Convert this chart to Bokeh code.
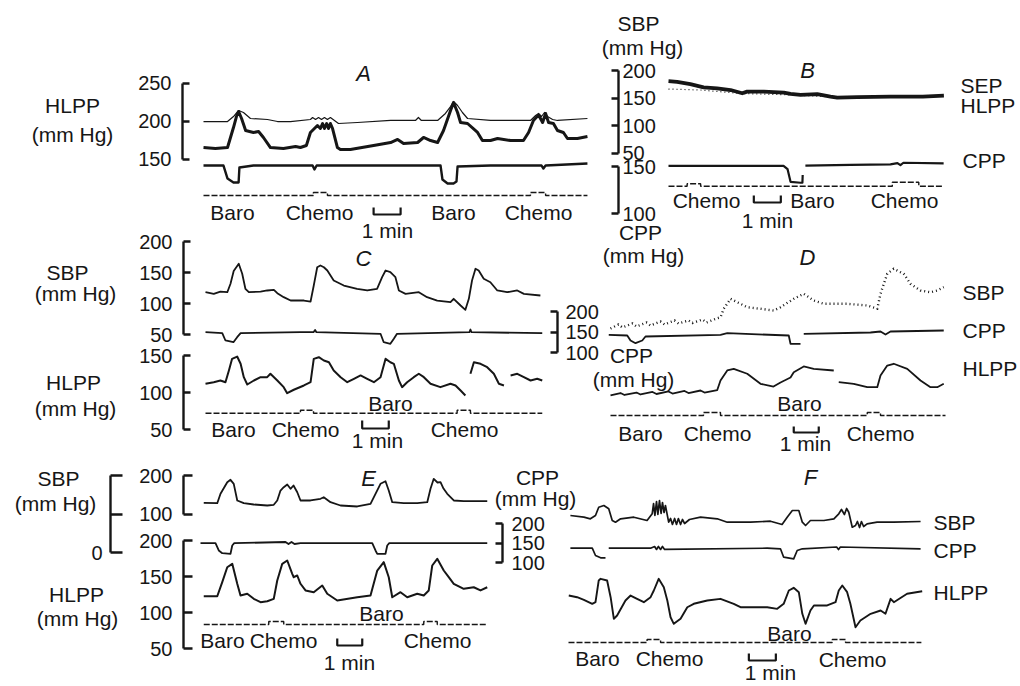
from bokeh.plotting import figure
from bokeh.models import Range1d, LinearAxis, FixedTicker, GridBox, ColumnDataSource
from bokeh.core.properties import value
from bokeh.embed import file_html
from bokeh.resources import INLINE

nan = float("nan")

# ------------------------------------------------------------------ data
# time in minutes from the start of each trace, pressures in mm Hg
A_t_sbp = [0, 0.89, 1.11, 1.30, 1.48, 1.74, 2.37, 2.74, 3.22, 3.96, 4.04, 4.15, 4.26, 4.37, 4.48, 4.59, 4.70, 5.0, 5.70, 6.93,
           7.85, 7.96, 8.07, 8.67, 8.96, 9.15, 9.26, 9.41, 9.59, 9.78, 10.63, 12.11, 12.30, 12.41, 12.52, 12.63, 12.74, 12.93, 13.11, 14.22]
A_sbp = [199.3, 199.3, 205.9, 213.8, 211.2, 203.3, 202, 199.3, 199.3, 202, 204.6, 202, 204.6, 202, 204.6, 202, 204.6, 196.7, 198, 200.7,
         200.7, 204.6, 200.7, 200.7, 209.9, 219, 225.7, 220.4, 211.2, 203.3, 200.7, 200.7, 207.2, 209.9, 205.9, 211.2, 205.9, 202, 200.7, 203.3]
A_t_hlpp = [0, 0.44, 0.89, 1.11, 1.22, 1.30, 1.41, 1.56, 1.85, 2.04, 2.22, 2.48, 2.96, 3.41, 3.59, 3.81, 3.96, 4.22, 4.33, 4.41,
            4.48, 4.56, 4.63, 4.70, 4.78, 4.96, 5.07, 5.44, 6.30, 6.93, 7.19, 7.41, 7.93, 8.15, 8.41, 8.67, 8.89, 9.15, 9.26, 9.41,
            9.52, 9.78, 10.15, 10.33, 10.63, 10.89, 11.37, 11.85, 12.04, 12.22, 12.41, 12.56, 12.67, 12.78, 12.96, 13.11, 13.33, 13.48, 13.85, 14.22]
A_hlpp = [165.1, 163.8, 165.1, 191.4, 205.9, 212.5, 203.3, 187.5, 184.9, 186.2, 178.3, 165.1, 163.8, 166.4, 165.1, 167.8, 184.9, 194.1, 190.1, 196.7,
          190.1, 196.7, 190.1, 196.7, 190.1, 165.1, 162.5, 162.5, 167.8, 171.7, 175.7, 170.4, 171.7, 178.3, 174.3, 171.7, 187.5, 213.8, 224.3, 211.2,
          198, 196.7, 184.9, 174.3, 174.3, 177, 174.3, 174.3, 184.9, 200.7, 207.9, 198, 209.9, 198, 196.7, 187.5, 184.9, 177, 177, 179.6]
A_t_cpp = [0, 0.74, 0.89, 1.11, 1.30, 1.33, 1.85, 4.04, 4.11, 4.19, 8.78, 8.85, 9.04, 9.26, 9.37, 9.41, 10.63, 12.52, 12.59, 12.67, 14.22]
A_cpp = [141.4, 141.4, 124.3, 119.1, 119.1, 138.8, 141.4, 141.4, 136.2, 141.4, 141.4, 123, 117.8, 117.8, 120.4, 140.1, 141.4, 141.4, 137.5, 141.4, 144.1]
A_evt_t = [0, 4.07, 4.59, 12.11, 12.67, 14.22]
A_evt = [0, 1, 0, 1, 0, 0]

B_t_sep = [0, 0.32, 0.81, 1.30, 1.80, 2.30, 2.73, 2.91, 3.53, 4.27, 4.52, 4.89, 5.51, 6.0, 6.25, 6.99, 8.22, 9.42, 10.2]
B_sep = [180.6, 179.4, 175.3, 169.5, 167.7, 164.7, 158.9, 161.7, 161.7, 160, 157.7, 155.9, 157.1, 152.9, 151.1, 151.9, 152.9, 152.9, 154.7]
B_t_hlpp = [0, 1.19, 2.67, 4.52, 6.0, 10.19]
B_hlpp = [166.5, 164.7, 158.5, 155.9, 152.4, 153.3]
B_t_cpp = [0, 4.26, 4.41, 4.52, 4.89, 4.96, 4.97, nan, 5.07, 6.74, 8.22, 8.48, 8.59, 8.70, 10.19]
B_cpp = [150.7, 150.7, 147.2, 133.7, 132.7, 132.7, 141, nan, 151, 151.7, 152.3, 153.6, 151.5, 154, 153.4]
B_evt_t = [0, 0.69, 1.19, 8.29, 9.27, 10.2]
B_evt = [0, 0.8, 0, 1.3, 0, 0]

C_t_sbp = [0, 0.31, 0.56, 0.82, 0.94, 1.06, 1.25, 1.38, 1.50, 1.63, 2.07, 2.32, 2.57, 2.70, 2.94, 3.20, 3.70, 3.95, 4.07, 4.20,
           4.32, 4.45, 4.58, 4.82, 5.20, 5.70, 6.08, 6.45, 6.64, 6.77, 6.95, 7.14, 7.27, 7.52, 8.02, 8.33, 8.71, 9.21, 9.33, 9.59,
           9.77, 9.90, 10.02, 10.15, 10.27, 10.46, 10.71, 10.97, 11.34, 11.72, 11.97, 12.59]
C_sbp = [118.2, 115.6, 119.3, 118.2, 131.8, 152.4, 164.0, 147.9, 123.7, 118.2, 119.3, 121.0, 122.1, 116.6, 110.2, 104.8, 104.8, 103.2, 129.0, 158.5,
         161.3, 158.5, 153.2, 137.1, 129.0, 123.7, 121.0, 123.7, 142.4, 153.2, 150.5, 142.4, 121.0, 115.6, 118.2, 110.2, 104.8, 102.1, 107.6, 96.8,
         89.8, 107.6, 137.1, 156.0, 153.2, 139.8, 134.3, 121.0, 118.2, 121.0, 115.6, 112.9]
C_t_cpp = [0, 0.63, 0.75, 1.05, 1.19, 1.32, 3.57, 4.06, 4.12, 4.17, 6.58, 6.70, 6.95, 7.08, 7.20, 9.92, 9.96, 10.0, 12.66]
C_cpp = [149.5, 147.1, 129.3, 125.1, 137.3, 147.1, 149.5, 149.5, 155, 149.5, 145.6, 125.1, 121.2, 133.4, 145.6, 149.5, 156.1, 149.5, 147.1]
C_t_hlpp = [0, 0.31, 0.56, 0.75, 0.88, 1.00, 1.19, 1.32, 1.44, 1.57, 1.82, 2.07, 2.32, 2.44, 2.70, 2.94, 3.07, 3.32,
            3.70, 3.95, 4.07, 4.26, 4.45, 4.64, 4.82, 5.08, 5.33, 5.58, 5.83, 6.08, 6.33, 6.58, 6.77, 6.95, 7.08, 7.27, 7.39, 7.58,
            7.83, 8.02, 8.21, 8.46, 8.83, 9.21, 9.40, 9.59, 9.77, nan, 9.96, 10.09, 10.34, 10.59, 10.84, 11.03, 11.22, nan,
            11.47, 11.72, 11.97, 12.22, 12.47, 12.66]
C_hlpp = [111.8, 113.9, 116.2, 113.9, 129.7, 145.5, 148.6, 138.8, 120.7, 110.8, 116.2, 120.7, 120.7, 125.3, 116.2, 107.2, 99.1, 103.7,
          109.5, 113.9, 145.5, 147.7, 143.2, 140.9, 129.7, 120.7, 113.9, 118.5, 123.0, 118.5, 113.9, 120.7, 145.5, 140.9, 138.8, 116.2, 107.2, 113.9,
          120.7, 125.3, 120.7, 111.8, 107.2, 111.8, 109.5, 102.7, 96.0, nan, 125.3, 140.9, 138.8, 134.2, 125.3, 111.8, 109.5, nan,
          123.0, 125.3, 120.7, 116.2, 118.5, 116.2]
C_evt_t = [0, 3.57, 4.06, 9.46, 9.96, 12.66]
C_evt = [0, 1, 0, 1, 0, 0]

D_t_sbp = [0.08, 0.40, 0.56, 0.96, 1.12, 1.52, 1.68, 2.08, 2.24, 2.64, 2.80, 3.20, 3.36, 3.76, 3.92, 4.32, 4.48,
           4.61, 4.88, 5.15, 5.55, 6.08, 6.61, 6.88, 7.41, 7.81, 8.21, 8.61, 9.55, 10.35, 10.75, 10.88, 11.15, 11.41, 11.81, 12.08, 12.48,
           12.88, 13.15, 13.41]
D_sbp = [103.3, 110, 105, 111.7, 106.7, 113.3, 108.3, 115, 110, 116.7, 111.7, 116.7, 112.5, 118.3, 113.3, 120, 122.2,
         136.2, 152.8, 147.2, 138.8, 136.2, 133.3, 138.8, 152.8, 161.2, 150, 144.5, 144.5, 141.7, 136.2, 161.2, 194.5, 202.8, 194.5, 177.8, 166.7,
         163.8, 166.7, 172.2]
D_t_cpp = [0.01, 0.75, 0.88, 1.08, 1.35, 1.48, 4.48, 4.75, 7.21, 7.28, 7.68, nan, 7.81, 10.48, 10.88, 11.08, 11.28, 13.41]
D_cpp = [143.2, 141.5, 129.3, 122.7, 129.3, 139.0, 143.2, 147.1, 141.5, 121.2, 121.2, nan, 145.6, 148.8, 151.2, 143.9, 151.2, 153.7]
D_t_hlpp = [0.08, 0.48, 0.64, 1.12, 1.28, 1.76, 1.92, 2.40, 2.56, 3.04, 3.20, 3.68, 3.84, 4.35,
            4.48, 4.75, 5.01, 5.55, 6.08, 6.60, 6.88, 7.28, 7.41, 7.81, 8.21, 9.01, nan,
            9.21, 9.81, 10.35, 10.75, 10.88, 11.15, 11.41, 11.95, 12.48, 12.88, 13.15, 13.41]
D_hlpp = [92.9, 96.4, 93.6, 97.1, 94.3, 97.9, 95, 98.6, 95.7, 99.3, 96.4, 100, 97.1, 100.7,
          114.3, 128.6, 131, 123.9, 109.6, 105.7, 111.4, 118.6, 126.2, 134.3, 131, 128.6, nan,
          111.9, 109.6, 104.7, 104.7, 121.4, 135.7, 138.2, 131, 114.3, 104.7, 104.7, 109.6]
D_evt_t = [0.08, 3.80, 4.48, 10.35, 10.88, 13.48]
D_evt = [0, 1, 0, 1, 0, 0]

E_t_sbp = [0.13, 0.67, 0.80, 1.07, 1.20, 1.33, 1.47, 1.73, 2.13, 2.67, 2.93, 3.07, 3.20, 3.33, 3.47, 3.60, 3.72, 3.87, 4.00, 4.40,
           4.80, 4.93, 5.20, 5.60, 6.27, 6.80, 7.00, 7.20, 7.40, 7.53, 7.67, 8.13, 8.67, 9.07, 9.20, 9.33, 9.48, 9.60, 9.72, 9.87,
           10.13, 10.53, 11.07, 11.47]
E_sbp = [129.1, 128.1, 152.5, 182.6, 188.8, 178.4, 135.1, 128.1, 124.7, 122.1, 123.9, 135.1, 161.0, 169.6, 176.6, 165.5, 174, 156.6, 135.1, 135.1,
         139.5, 143.6, 130.7, 122.1, 119.5, 126.5, 152.5, 178.4, 185.2, 161, 130.7, 128.1, 128.1, 130.7, 165.5, 191.4, 181.8, 182.6, 166.2, 152.5,
         135.1, 133.3, 133.3, 133.3]
E_t_cpp = [0, 0.60, 0.73, 0.87, 1.20, 1.27, 1.35, 3.40, 3.52, 3.64, 3.76, 4.0, 6.87, 7.00, 7.07, 7.40, 7.47, 7.55, 11.47]
E_cpp = [149.5, 149.5, 130.8, 123.9, 122.3, 143.6, 149.5, 152.6, 147.4, 152.6, 147.4, 149.5, 149.5, 130.8, 122.3, 122.3, 143.6, 149.5, 149.5]
E_t_hlpp = [0.13, 0.67, 0.87, 1.07, 1.27, 1.47, 1.60, 1.87, 2.13, 2.40, 2.67, 2.93, 3.07, 3.27, 3.47, 3.67, 3.73, 3.87, 4.00, 4.20,
            4.53, 4.87, 5.07, 5.47, 6.27, 6.80, 7.07, 7.33, 7.53, 7.67, 8.00, 8.27, 8.67, 8.93, 9.13, 9.27, 9.47, 9.73, 9.93, 10.13,
            10.53, 10.93, 11.20, 11.47]
E_hlpp = [122.6, 122.6, 142.1, 162.9, 167.6, 139.9, 123.6, 126.0, 119.0, 114.3, 115.7, 119.0, 144.4, 167.6, 172.2, 153.7, 149.0, 151.4, 139.9, 130.6,
          128.2, 137.5, 126.0, 116.7, 121.2, 123.6, 158.3, 169.9, 149.0, 121.2, 128.2, 121.2, 126.0, 123.6, 130.6, 165.3, 174.6, 158.3, 149.0, 139.9,
          132.9, 135.1, 130.6, 135.1]
E_evt_t = [0.13, 2.73, 3.33, 8.93, 9.47, 11.47]
E_evt = [0, 1, 0, 1, 0, 0]

F_t_sbp = [0.07, 0.57, 0.81, 1.00, 1.12, 1.31, 1.49, 1.62, 1.74, 1.93, 2.42, 2.91, 3.10, 3.15, 3.20, 3.26, 3.31, 3.37, 3.43, 3.48,
           3.54, 3.59, 3.71, 3.78, 3.85, 3.93, 4.00, 4.07, 4.15, 4.22, 4.30, 4.48, 4.89, 5.51, 5.88, 6.74, 7.48, 7.91, 8.10, 8.29,
           8.53, 8.66, 8.78, 8.96, 9.46, 9.83, 10.01, 10.11, 10.22, 10.30, 10.38, 10.51, 10.63, 10.70, 10.78, 10.85, 10.93, 11.06, 11.43, 12.05,
           13.04]
F_sbp = [160, 156.6, 153.4, 160, 176.6, 180, 173.4, 150, 146.6, 153.4, 156.6, 150, 163.4, 184, 160, 188, 162, 190, 164, 186,
         166, 180, 146.6, 154, 142, 154, 142, 154, 142, 152, 144, 152, 156.6, 153.4, 146.6, 146.6, 148.6, 142, 156.6, 170,
         170, 146.6, 140, 150, 150, 153.4, 163.4, 172, 162, 174, 166.6, 136.6, 140, 148, 136, 148, 138, 143.4, 146.6, 146.6,
         148]
F_t_cpp = [0.07, 0.88, 1.00, 1.19, 1.37, nan, 1.49, 3.04, 3.19, 3.26, 3.33, 3.41, 3.48, 3.56, 7.36, 7.85, 7.97, 8.34, 8.47, 8.66,
           9.93, 10.0, 10.07, 13.04]
F_cpp = [136.7, 136.7, 118, 112.1, 112.1, nan, 136.7, 136.7, 141, 133.4, 141, 133.4, 141, 133.4, 136.7, 135.1, 113.6, 109.5, 130.8, 135.1,
         139.7, 133.3, 139.7, 135.1]
F_t_hlpp = [0.01, 0.32, 0.57, 0.88, 1.00, 1.12, 1.19, 1.43, 1.56, 1.68, 1.80, 2.11, 2.30, 2.54, 2.79, 3.04, 3.16, 3.34, 3.53, 3.66,
            3.78, 3.90, 4.15, 4.40, 4.64, 5.14, 5.63, 6.12, 6.37, 7.36, 7.73, 7.97, 8.16, 8.34, 8.53, 8.66, 8.78, 8.96, 9.09, 9.58,
            9.89, 10.01, 10.14, 10.32, 10.44, 10.63, 10.81, 11.19, 11.56, 11.74, 11.93, 12.05, 12.54, 13.10]
F_hlpp = [107.1, 104.7, 101, 95.3, 97.6, 128.6, 131, 128.6, 104.7, 73.8, 78.6, 100, 107.1, 102.4, 97.6, 104.7, 114.3, 131, 119, 100,
          76.1, 66.7, 73.8, 90.4, 95.3, 100, 102.4, 95.3, 90.4, 90.4, 88.1, 95.3, 114.3, 118.1, 111.9, 81, 66.7, 85.7, 92.9, 92.9,
          97.6, 114.3, 121.4, 111.9, 95.3, 61.8, 71.4, 81, 85.7, 81, 102.4, 97.6, 109.6, 113.3]
F_evt_t = [0.0, 2.91, 3.41, 9.77, 10.26, 13.07]
F_evt = [0, 1, 0, 1, 0, 0]

# start of the "1 min" scale bar of each panel (minutes)
BAR_START = {"A": 6.30, "B": 3.16, "C": 5.89, "D": 7.41, "E": 5.47, "F": 6.68}

# axis tick values
TICKS_A_HLPP = [150, 200, 250]
TICKS_B_SBP = [50, 100, 150, 200]
TICKS_B_CPP = [100, 150]
TICKS_C_SBP = [50, 100, 150, 200]
TICKS_C_HLPP = [50, 100, 150]
TICKS_CD_CPP = [100, 150, 200]
TICKS_E_SBP = [0, 100, 200]
TICKS_E_SBP2 = [100, 200]
TICKS_E_HLPP = [50, 100, 150, 200]
TICKS_EF_CPP = [100, 150, 200]

# ------------------------------------------------------------------ layout
FONT = "Liberation Sans"
INK = "#161616"
W, H = 1020, 686
PAGE = 0  # canvas origin in window pixels

# panel time axis: window x of t = 0, pixels per minute
PANEL_X = {"A": (203, 27.0), "B": (668, 27.0), "C": (205, 26.6),
           "D": (608, 25.0), "E": (200, 25.0), "F": (568, 27.0)}
# pressure scales: reference value, its window y, pixels per mm Hg
SCALES = {"A": (200, 120.5, 0.76),
          "B_sbp": (200, 70, 0.553), "B_cpp": (150, 166, 0.94),
          "C_sbp": (200, 241, 0.62), "C_hlpp": (150, 355, 0.74),
          "CD_cpp": (200, 311, 0.41),
          "D_sbp": (150, 300, 0.6), "D_hlpp": (100, 390, 0.7),
          "E_sbp": (200, 475, 0.385), "E_hlpp": (200, 540, 0.72),
          "EF_cpp": (200, 523, 0.39),
          "F_sbp": (150, 520, 0.5), "F_hlpp": (100, 600, 0.7)}
EVT_Y = {"A": 195, "B": 185.7, "C": 412.7, "D": 415, "E": 624, "F": 642}
for k, yb in EVT_Y.items():
    SCALES["evt_" + k] = (0, yb, 3.0)
BAR_Y = {"A": (207, 214), "B": (195, 202), "C": (420, 428),
         "D": (426, 432), "E": (638, 645), "F": (653, 660)}


def xr(panel):
    x0, ppm = PANEL_X[panel]
    return Range1d(start=(PAGE - x0) / ppm, end=(PAGE + W - x0) / ppm)


def yr(key):
    v, y, ppu = SCALES[key]
    return Range1d(start=v + (y - (PAGE + H)) / ppu, end=v + (y - PAGE) / ppu)


def blank(**kw):
    f = figure(width=W, height=H, output_backend="svg", toolbar_location=None, title=None,
               x_axis_location=None, y_axis_location=None, outline_line_color=None,
               background_fill_color=None, border_fill_color=None, **kw)
    f.xgrid.visible = False
    f.ygrid.visible = False
    return f


base = blank(x_range=Range1d(PAGE, PAGE + W), y_range=Range1d(PAGE + H, PAGE), min_border=0)
base.extra_x_ranges = {p: xr(p) for p in PANEL_X}
base.extra_y_ranges = {k: yr(k) for k in SCALES}

TRACES = [
    ("A", "A", A_t_sbp, A_sbp, 1.2, "solid"),
    ("A", "A", A_t_hlpp, A_hlpp, 3.0, "solid"),
    ("A", "A", A_t_cpp, A_cpp, 2.4, "solid"),
    ("B", "B_sbp", B_t_hlpp, B_hlpp, 1.2, "1 3"),
    ("B", "B_sbp", B_t_sep, B_sep, 3.8, "solid"),
    ("B", "B_cpp", B_t_cpp, B_cpp, 2.2, "solid"),
    ("C", "C_sbp", C_t_sbp, C_sbp, 1.8, "solid"),
    ("C", "CD_cpp", C_t_cpp, C_cpp, 1.8, "solid"),
    ("C", "C_hlpp", C_t_hlpp, C_hlpp, 2.0, "solid"),
    ("D", "D_sbp", D_t_sbp, D_sbp, 2.4, "1 3"),
    ("D", "CD_cpp", D_t_cpp, D_cpp, 1.8, "solid"),
    ("D", "D_hlpp", D_t_hlpp, D_hlpp, 1.8, "solid"),
    ("E", "E_sbp", E_t_sbp, E_sbp, 1.8, "solid"),
    ("E", "EF_cpp", E_t_cpp, E_cpp, 1.8, "solid"),
    ("E", "E_hlpp", E_t_hlpp, E_hlpp, 2.0, "solid"),
    ("F", "F_sbp", F_t_sbp, F_sbp, 1.7, "solid"),
    ("F", "EF_cpp", F_t_cpp, F_cpp, 1.7, "solid"),
    ("F", "F_hlpp", F_t_hlpp, F_hlpp, 1.9, "solid"),
]
for panel, scale, t, v, w, dash in TRACES:
    base.line(t, v, x_range_name=panel, y_range_name=scale, line_color=INK,
              line_width=w, line_dash=dash, line_join="round")

EVENTS = [("A", A_evt_t, A_evt), ("B", B_evt_t, B_evt), ("C", C_evt_t, C_evt),
          ("D", D_evt_t, D_evt), ("E", E_evt_t, E_evt), ("F", F_evt_t, F_evt)]
for panel, t, lv in EVENTS:
    base.step(t, lv, mode="after", x_range_name=panel, y_range_name="evt_" + panel,
              line_color=INK, line_width=1.4, line_dash="6 2")

for panel, t0 in BAR_START.items():
    ytop, ybot = BAR_Y[panel]
    base.line([t0, t0, t0 + 1, t0 + 1], [ytop, ybot, ybot, ytop], x_range_name=panel,
              line_color=INK, line_width=2.2)

CENTER = [("HLPP", 72, 105), ("(mm Hg)", 72, 134),
          ("Baro", 232, 212), ("Chemo", 319, 212), ("1 min", 387, 230), ("Baro", 453, 212), ("Chemo", 538, 212),
          ("SBP", 638, 23), ("(mm Hg)", 642, 47),
          ("Chemo", 706, 200), ("1 min", 767, 220), ("Baro", 812, 200), ("Chemo", 904, 200),
          ("CPP", 640, 232), ("(mm Hg)", 643, 255),
          ("SBP", 67, 272), ("(mm Hg)", 75, 293), ("HLPP", 73, 382), ("(mm Hg)", 75, 408),
          ("Baro", 233, 429), ("Chemo", 305, 429), ("Baro", 390, 403), ("1 min", 377, 440), ("Chemo", 464, 429),
          ("CPP", 631, 355), ("(mm Hg)", 633, 379),
          ("Baro", 640, 433), ("Chemo", 717, 433), ("Baro", 799, 403), ("1 min", 805, 443), ("Chemo", 880, 433),
          ("SBP", 58, 478), ("(mm Hg)", 55, 503), ("HLPP", 76, 594), ("(mm Hg)", 77, 618),
          ("Baro", 222, 640), ("Chemo", 283, 640), ("Baro", 381, 613), ("1 min", 349, 662), ("Chemo", 437, 640),
          ("CPP", 537, 477), ("(mm Hg)", 535, 498),
          ("Baro", 789, 633), ("Chemo", 852, 659), ("Baro", 597, 658), ("Chemo", 669, 658), ("1 min", 770, 672)]
LEFT = [("SEP", 960, 85), ("HLPP", 960, 105), ("CPP", 962, 160),
        ("SBP", 962, 292), ("CPP", 962, 330), ("HLPP", 962, 368),
        ("SBP", 933, 522), ("CPP", 933, 550), ("HLPP", 933, 592)]
LETTERS = [("A", 363, 73), ("B", 807, 70), ("C", 363, 258), ("D", 807, 257), ("E", 368, 478), ("F", 810, 477)]


def add_text(items, align, style="normal", size="21px"):
    src = ColumnDataSource(dict(text=[i[0] for i in items], x=[i[1] for i in items], y=[i[2] for i in items]))
    base.text(x="x", y="y", text="text", source=src, text_font=value(FONT), text_font_size=size,
              text_font_style=style, text_align=align, text_baseline="middle", text_color=INK)


add_text(CENTER, "center")
add_text(LEFT, "left")
add_text(LETTERS, "center", "italic", "22px")


def axis_fig(side, ax_x, scale, ticks, tick_in, standoff, overrides=None):
    if side == "left":
        mb = dict(min_border_left=int(round(ax_x - PAGE)), min_border_right=0)
    else:
        mb = dict(min_border_left=0, min_border_right=int(round(PAGE + W - ax_x)))
    f = blank(x_range=Range1d(0, 1), y_range=yr(scale), min_border_top=0, min_border_bottom=0, **mb)
    ax = LinearAxis(bounds=(min(ticks), max(ticks)), ticker=FixedTicker(ticks=ticks, minor_ticks=[]),
                    major_tick_in=tick_in, major_tick_out=0, major_label_standoff=standoff,
                    axis_line_width=2.4, axis_line_color=INK, major_tick_line_width=2.4,
                    major_tick_line_color=INK, minor_tick_line_color=None,
                    major_label_text_font=FONT, major_label_text_font_size="20px",
                    major_label_text_color=INK)
    if overrides:
        ax.major_label_overrides = overrides
    f.add_layout(ax, side)
    return f


AXES = [
    axis_fig("left", 182, "A", TICKS_A_HLPP, 7, 11),
    axis_fig("right", 618, "B_sbp", TICKS_B_SBP, 7, 4),
    axis_fig("right", 618, "B_cpp", TICKS_B_CPP, 7, 4),
    axis_fig("left", 183, "C_sbp", TICKS_C_SBP, 7, 11),
    axis_fig("left", 183, "C_hlpp", TICKS_C_HLPP, 7, 11),
    axis_fig("right", 557, "CD_cpp", TICKS_CD_CPP, 7, 8),
    axis_fig("left", 110, "E_sbp", TICKS_E_SBP, 12, 8, {100: "", 200: ""}),
    axis_fig("left", 183, "E_sbp", TICKS_E_SBP2, 9, 11),
    axis_fig("left", 183, "E_hlpp", TICKS_E_HLPP, 9, 11),
    axis_fig("right", 502, "EF_cpp", TICKS_EF_CPP, 7, 9),
]

# Stack all layers on the same origin: one full-width track in the middle,
# zero-width tracks around it.  Every layer spans the full-width track but
# starts and ends in its own column, so no two layers share an edge column.
n = len(AXES)
children = [(base, 0, n)]
for i, f in enumerate(AXES):
    children.append((f, 0, i, 1, n + 2))
layout = GridBox(children=children, cols=["0px"] * n + ["%dpx" % W] + ["0px"] * (n + 1),
                 rows=["%dpx" % H], spacing=0)

open("out.html", "w").write(file_html(layout, INLINE))
